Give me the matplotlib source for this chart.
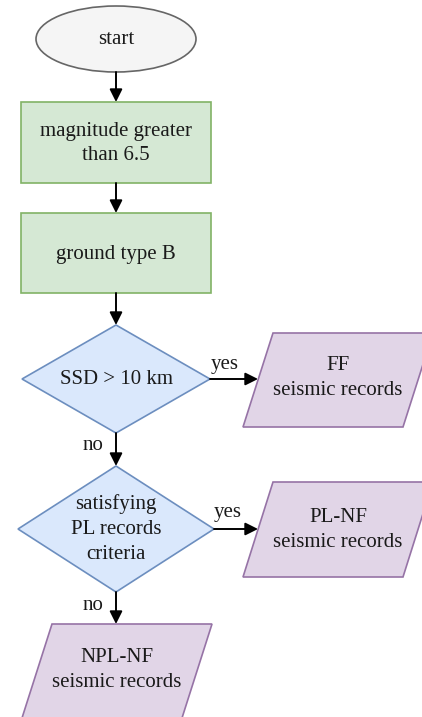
import matplotlib.pyplot as plt
from matplotlib.patches import Ellipse, Rectangle, Polygon

# node texts
start_label = "start"
step_labels = ["magnitude greater\nthan 6.5", "ground type B"]
decision_labels = ["SSD > 10 km", "satisfying\nPL records\ncriteria"]
output_labels = ["FF\nseismic records", "PL-NF\nseismic records", "NPL-NF\nseismic records"]
branch_labels = ["yes", "no"]

W, H = 422, 717
fig = plt.figure(figsize=(W / 100, H / 100), dpi=100)
ax = fig.add_axes([0, 0, 1, 1])
ax.set_xlim(0, W)
ax.set_ylim(H, 0)
ax.axis("off")

FONT = dict(family="Liberation Serif", fontsize=15, color="#1a1a1a",
            ha="center", va="center", linespacing=1.42)
cx = 116


def arrow(x0, y0, x1, y1):
    ax.annotate("", xy=(x1, y1), xytext=(x0, y0),
                arrowprops=dict(arrowstyle="-|>", color="black", lw=1.4,
                                mutation_scale=19, shrinkA=0, shrinkB=0))


def para(xl, yt, w, h, off, label, ty):
    pts = [(xl + off, yt), (xl + off + w, yt), (xl + w, yt + h), (xl, yt + h)]
    ax.add_patch(Polygon(pts, closed=True, fc="#e1d5e7", ec="#9673a6", lw=1.2))
    ax.text(xl + off / 2 + w / 2, ty, label, **FONT)


def diamond(x, y, hw, hh, label):
    pts = [(x, y - hh), (x + hw, y), (x, y + hh), (x - hw, y)]
    ax.add_patch(Polygon(pts, closed=True, fc="#dae8fc", ec="#6c8ebf", lw=1.2))
    ax.text(x, y, label, **FONT)


# start
ax.add_patch(Ellipse((cx, 39), 160, 66, fc="#f5f5f5", ec="#666666", lw=1.2))
ax.text(cx, 39, start_label, **FONT)

# process boxes
for (top, bot), lab in zip([(102, 183), (213, 293)], step_labels):
    ax.add_patch(Rectangle((21, top), 190, bot - top, fc="#d5e8d4", ec="#82b366", lw=1.2))
    ax.text(cx, (top + bot) / 2 + 1, lab, **FONT)

# decisions
diamond(cx, 379, 94, 54, decision_labels[0])
diamond(cx, 529, 98, 63, decision_labels[1])

# outputs
para(243, 333, 160, 94, 30, output_labels[0], 378)
para(243, 482, 160, 95, 30, output_labels[1], 530)
para(22, 624, 160, 94, 30, output_labels[2], 670)

# arrows
arrow(cx, 72, cx, 102)
arrow(cx, 183, cx, 213)
arrow(cx, 293, cx, 325)
arrow(210, 379, 258, 379)
arrow(cx, 433, cx, 466)
arrow(214, 529, 258, 529)
arrow(cx, 592, cx, 624)

# branch labels
ax.text(225, 364, branch_labels[0], **FONT)
ax.text(228, 513, branch_labels[0], **FONT)
ax.text(93, 446, branch_labels[1], **FONT)
ax.text(93, 605, branch_labels[1], **FONT)

fig.savefig("out.png", dpi=100, facecolor="white")
